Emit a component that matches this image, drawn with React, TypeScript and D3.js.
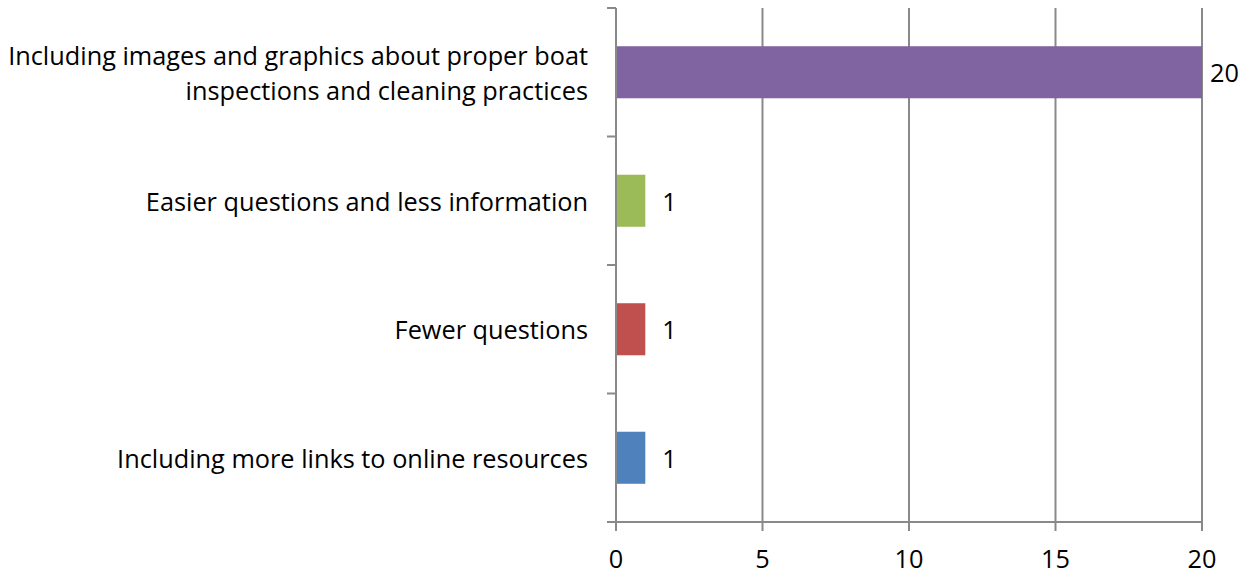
import React from "react";
import * as d3 from "d3";

const categories: string[][] = [
  ["Including images and graphics about proper boat", "inspections and cleaning practices"],
  ["Easier questions and less information"],
  ["Fewer questions"],
  ["Including more links to online resources"],
];
const values: number[] = [20, 1, 1, 1];
const colors: string[] = ["#8064A2", "#9BBB59", "#C0504D", "#4F81BD"];
const xTicks: number[] = [0, 5, 10, 15, 20];

const W = 1249;
const H = 574;
const left = 616;
const right = 1202;
const top = 8;
const bottom = 522;
const FONT = "'Open Sans', sans-serif";
const FS = 25.3;

export default function App() {
  const x = d3.scaleLinear().domain([0, 20]).range([left, right]);
  const keys = categories.map((_, i) => String(i));
  const y = d3.scaleBand<string>().domain(keys).range([top, bottom]).paddingInner(0.595).paddingOuter(0.2975);
  const step = y.step();
  const grid = "#898989";
  return (
    <svg width={W} height={H} style={{ position: "absolute", left: 0, top: 0, background: "#fff" }}>
      {xTicks.slice(1).map((t) => (
        <line key={"g" + t} x1={x(t)} x2={x(t)} y1={top} y2={bottom + 9} stroke={grid} strokeWidth={2} />
      ))}
      {/* y axis */}
      <line x1={left} x2={left} y1={top} y2={bottom + 9} stroke={grid} strokeWidth={2} />
      {d3.range(categories.length + 1).map((i) => (
        <line key={"yt" + i} x1={left - 9} x2={left} y1={top + i * step} y2={top + i * step} stroke={grid} strokeWidth={2} />
      ))}
      {/* x axis */}
      <line x1={left - 9} x2={right} y1={bottom} y2={bottom} stroke={grid} strokeWidth={2} />
      {xTicks.map((t) => (
        <text key={"xl" + t} x={x(t)} y={568} textAnchor="middle" fontFamily={FONT} fontSize={FS} fill="#000">
          {t}
        </text>
      ))}
      {values.map((v, i) => {
        const yy = y(String(i))!;
        const bw = y.bandwidth();
        const cy = yy + bw / 2;
        const lines = categories[i];
        const lh = 35;
        return (
          <g key={"b" + i}>
            <rect x={x(0) + 1} y={yy} width={x(v) - x(0) - 1} height={bw} fill={colors[i]} />
            <text x={x(v) + (v >= 10 ? 8 : 17)} y={cy} dominantBaseline="central" fontFamily={FONT} fontSize={FS} fill="#000">
              {v}
            </text>
            {lines.map((ln, j) => (
              <text key={j} x={588} y={cy + (j - (lines.length - 1) / 2) * lh} textAnchor="end" dominantBaseline="central" fontFamily={FONT} fontSize={FS} fill="#000">
                {ln}
              </text>
            ))}
          </g>
        );
      })}
    </svg>
  );
}
